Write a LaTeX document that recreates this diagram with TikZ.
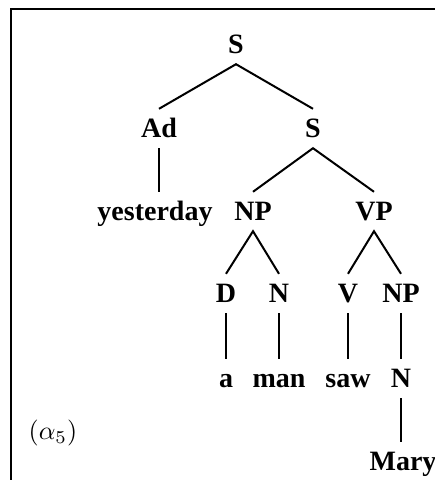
\documentclass[tikz,border=0pt]{standalone}
\usepackage{fontspec}
\setmainfont{Liberation Serif}
\begin{document}
\begin{tikzpicture}[x=1pt,y=1pt,
  cat/.style={font=\fontsize{28}{32}\selectfont\bfseries, anchor=base,
    text height=17pt, text depth=0pt, inner ysep=11pt, inner xsep=0pt},
  edge/.style={line width=2pt},
  frame/.style={line width=2pt}]
\useasboundingbox (0,0) rectangle (435,-480);
\draw[frame] (11,-481) -- (11,-9) -- (435,-9);
% row 1
\node[cat] (S) at (236,-53) {S};
% row 2
\node[cat] (Ad) at (159,-137) {Ad};
\node[cat] (S2) at (313,-137) {S};
% row 3
\node[cat] (yes) at (155,-220) {yesterday};
\node[cat] (NP) at (253,-220) {NP};
\node[cat] (VP) at (374,-220) {VP};
% row 4
\node[cat] (D) at (226,-302) {D};
\node[cat] (N) at (279,-302) {N};
\node[cat] (V) at (348,-302) {V};
\node[cat] (NP2) at (401,-302) {NP};
% row 5
\node[cat] (a) at (226,-387) {a};
\node[cat] (man) at (279,-387) {man};
\node[cat] (saw) at (348,-387) {saw};
\node[cat] (N2) at (401,-387) {N};
% row 6
\node[cat] (Mary) at (403,-470) {Mary};
% label
\node[scale=2.6, inner sep=0pt] (lab) at (53,-433) {$(\alpha_5)$};
% edges
\draw[edge] (Ad.north) -- (S.south) -- (S2.north);
\draw[edge] (Ad.south) -- (Ad.south |- yes.north);
\draw[edge] (NP.north) -- (S2.south) -- (VP.north);
\draw[edge] (D.north) -- (NP.south) -- (N.north);
\draw[edge] (V.north) -- (VP.south) -- (NP2.north);
\draw[edge] (D.south) -- (a.north);
\draw[edge] (N.south) -- (man.north);
\draw[edge] (V.south) -- (saw.north);
\draw[edge] (NP2.south) -- (N2.north);
\draw[edge] (N2.south) -- (Mary.north -| N2.south);
\end{tikzpicture}
\end{document}
